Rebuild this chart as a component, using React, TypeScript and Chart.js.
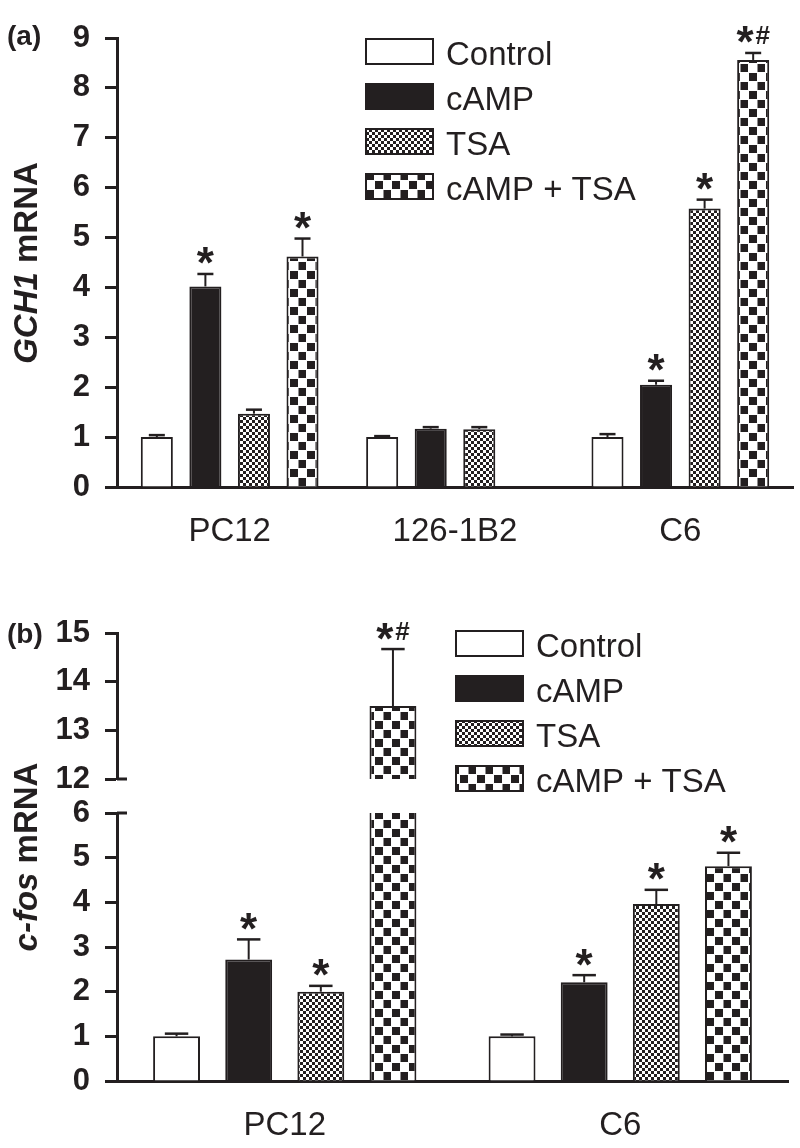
import React, { useEffect, useRef } from 'react';
import { Chart, registerables } from 'chart.js';

Chart.register(...registerables);

const W = 800;
const H = 1148;
const INK = '#231f20';
const FONT = '"Liberation Sans", Arial, Helvetica, sans-serif';

const seriesNames = ['Control', 'cAMP', 'TSA', 'cAMP + TSA'];

// ---------- Panel (a): GCH1 mRNA ----------
const cellsA = ['PC12', '126-1B2', 'C6'];
const controlA: (number | null)[] = [1.0, 1.0, 1.0];
const campA: (number | null)[] = [4.02, 1.17, 2.05];
const tsaA: (number | null)[] = [1.47, 1.16, 5.58];
const comboA: (number | null)[] = [4.62, null, 8.56];
const controlErrA: (number | null)[] = [0.04, 0.02, 0.06];
const campErrA: (number | null)[] = [0.25, 0.03, 0.08];
const tsaErrA: (number | null)[] = [0.08, 0.04, 0.18];
const comboErrA: (number | null)[] = [0.36, null, 0.14];
const controlSigA = ['', '', ''];
const campSigA = ['*', '', '*'];
const tsaSigA = ['', '', '*'];
const comboSigA = ['*', '', '*#'];
const ticksA = [0, 1, 2, 3, 4, 5, 6, 7, 8, 9];

// ---------- Panel (b): c-fos mRNA ----------
const cellsB = ['PC12', 'C6'];
const controlB: (number | null)[] = [1.0, 1.0];
const campB: (number | null)[] = [2.72, 2.21];
const tsaB: (number | null)[] = [2.0, 3.96];
const comboB: (number | null)[] = [13.5, 4.81];
const controlErrB: (number | null)[] = [0.06, 0.04];
const campErrB: (number | null)[] = [0.45, 0.16];
const tsaErrB: (number | null)[] = [0.13, 0.32];
const comboErrB: (number | null)[] = [1.17, 0.3];
const controlSigB = ['', ''];
const campSigB = ['*', '*'];
const tsaSigB = ['*', '*'];
const comboSigB = ['*#', '*'];
const ticksBLow = [0, 1, 2, 3, 4, 5, 6];
const ticksBHigh = [12, 13, 14, 15];

type Spec = {
  key: string;
  labels: string[];
  values: (number | null)[][];
  errors: (number | null)[][];
  sigs: string[][];
  yTicks: number[];
  mode: 'normal' | 'lower' | 'upper';
  top: number;
  bottom: number | null; // x-axis baseline (null => no x axis)
  floatBottom?: number;
  right: number;
  xPad: number;
  catPct: number;
  barPct: number;
  stubs: number[];
  legend?: { x: number; y: number; textX: number };
  title?: { parts: [string, boolean][]; x: number; cy: number };
  tag?: { text: string; x: number; y: number };
};

function makePattern(tw: number, th: number, sq: number, off: number) {
  const c = document.createElement('canvas');
  c.width = tw;
  c.height = th;
  const g = c.getContext('2d')!;
  g.fillStyle = '#ffffff';
  g.fillRect(0, 0, tw, th);
  g.fillStyle = INK;
  g.fillRect(off, off, sq, sq);
  g.fillRect(off + tw / 2, off + th / 2, sq, sq);
  return g.createPattern(c, 'repeat') as CanvasPattern;
}

function drawSig(ctx: CanvasRenderingContext2D, sig: string, cx: number, cy: number) {
  const parts = sig.split('').map((ch) => ({
    ch,
    font: ch === '*' ? `bold 44px ${FONT}` : `bold 26px ${FONT}`,
  }));
  const gap = 2;
  let total = 0;
  const ms = parts.map((p) => {
    ctx.font = p.font;
    const m = ctx.measureText(p.ch);
    total += m.width;
    return m;
  });
  total += gap * (parts.length - 1);
  let x = cx - total / 2;
  ctx.textAlign = 'left';
  ctx.textBaseline = 'alphabetic';
  parts.forEach((p, k) => {
    ctx.font = p.font;
    const m = ms[k];
    const y = cy + (m.actualBoundingBoxAscent - m.actualBoundingBoxDescent) / 2;
    ctx.fillText(p.ch, x, y);
    x += m.width + gap;
  });
}

function buildChart(canvas: HTMLCanvasElement, spec: Spec, fills: (string | CanvasPattern)[]) {
  const lo = spec.yTicks[0];
  const hi = spec.yTicks[spec.yTicks.length - 1];

  const datasets = seriesNames.map((name, s) => ({
    label: name,
    data: spec.values[s].map((v) => {
      if (v == null) return null;
      if (spec.mode === 'upper') return v > lo ? [lo, Math.min(v, hi)] : null;
      if (spec.mode === 'lower') return Math.min(v, hi);
      return v;
    }),
    backgroundColor: fills[s],
    borderColor: INK,
    borderWidth: (c: any) => {
      const v = spec.values[s][c.dataIndex];
      if (spec.mode === 'lower' && v != null && v > hi) return { left: 2, right: 2, top: 0, bottom: 0 };
      return 2;
    },
    categoryPercentage: spec.catPct,
    barPercentage: spec.barPct,
  }));

  const plugin = {
    id: 'extras_' + spec.key,
    afterDatasetsDraw(chart: any) {
      const ctx: CanvasRenderingContext2D = chart.ctx;
      const ys = chart.scales.y;
      const area = chart.chartArea;
      ctx.save();
      ctx.strokeStyle = INK;
      ctx.fillStyle = INK;
      spec.values.forEach((vals, s) => {
        const meta = chart.getDatasetMeta(s);
        vals.forEach((v, i) => {
          if (v == null || v < lo || v > hi) return;
          const el: any = meta.data[i];
          if (!el) return;
          const e = spec.errors[s][i] ?? 0;
          const top = ys.getPixelForValue(v);
          const et = ys.getPixelForValue(v + e);
          const cap = el.width * 0.5;
          ctx.lineWidth = 2;
          ctx.beginPath();
          ctx.moveTo(el.x, top);
          ctx.lineTo(el.x, et);
          ctx.stroke();
          ctx.lineWidth = 2.5;
          ctx.beginPath();
          ctx.moveTo(el.x - cap / 2, et);
          ctx.lineTo(el.x + cap / 2, et);
          ctx.stroke();
          const sig = spec.sigs[s][i];
          if (sig) drawSig(ctx, sig, el.x, et - 18);
        });
      });
      ctx.lineWidth = 3;
      spec.stubs.forEach((v) => {
        const y = ys.getPixelForValue(v);
        ctx.beginPath();
        ctx.moveTo(area.left, y);
        ctx.lineTo(area.left + 10, y);
        ctx.stroke();
      });
      ctx.restore();
    },
    afterDraw(chart: any) {
      const ctx: CanvasRenderingContext2D = chart.ctx;
      ctx.save();
      if (spec.legend) {
        const { x, y, textX } = spec.legend;
        seriesNames.forEach((name, s) => {
          const top = y + s * 45;
          ctx.fillStyle = fills[s] as any;
          ctx.fillRect(x, top, 67, 25);
          ctx.lineWidth = 2;
          ctx.strokeStyle = INK;
          ctx.strokeRect(x, top, 67, 25);
          ctx.fillStyle = INK;
          ctx.font = `33px ${FONT}`;
          ctx.textAlign = 'left';
          ctx.textBaseline = 'alphabetic';
          ctx.fillText(name, textX, top + 26);
        });
      }
      if (spec.title) {
        const t = spec.title;
        ctx.translate(t.x, t.cy);
        ctx.rotate(-Math.PI / 2);
        ctx.fillStyle = INK;
        ctx.textBaseline = 'alphabetic';
        ctx.textAlign = 'left';
        let total = 0;
        t.parts.forEach(([txt, it]) => {
          ctx.font = `${it ? 'italic ' : ''}bold 33px ${FONT}`;
          total += ctx.measureText(txt).width;
        });
        let x = -total / 2;
        t.parts.forEach(([txt, it]) => {
          ctx.font = `${it ? 'italic ' : ''}bold 33px ${FONT}`;
          ctx.fillText(txt, x, 0);
          x += ctx.measureText(txt).width;
        });
        ctx.setTransform(1, 0, 0, 1, 0, 0);
      }
      if (spec.tag) {
        ctx.fillStyle = INK;
        ctx.font = `bold 28px ${FONT}`;
        ctx.textAlign = 'left';
        ctx.textBaseline = 'alphabetic';
        ctx.fillText(spec.tag.text, spec.tag.x, spec.tag.y);
      }
      ctx.restore();
    },
  };

  const hasX = spec.bottom != null;

  return new Chart(canvas, {
    type: 'bar',
    data: { labels: spec.labels, datasets: datasets as any },
    options: {
      responsive: false,
      animation: false,
      events: [],
      layout: {
        padding: {
          top: spec.top,
          right: spec.right,
          left: 0,
          bottom: hasX ? 0 : H - (spec.floatBottom as number),
        },
      },
      plugins: {
        legend: { display: false },
        tooltip: { enabled: false },
        title: { display: false },
      },
      scales: {
        x: {
          display: hasX,
          z: 1,
          grid: { display: false },
          border: { display: true, width: 3, color: INK },
          ticks: {
            color: INK,
            padding: spec.xPad,
            font: { family: FONT, size: 33, weight: 'normal' },
            maxRotation: 0,
          },
          afterFit: (sc: any) => {
            if (hasX) sc.height = H - (spec.bottom as number);
          },
        },
        y: {
          min: lo,
          max: hi,
          z: 1,
          grid: {
            drawOnChartArea: false,
            drawTicks: true,
            tickLength: 12,
            tickWidth: 3,
            tickColor: INK,
            color: INK,
          },
          border: { display: true, width: 3, color: INK },
          ticks: {
            color: INK,
            padding: 15,
            font: { family: FONT, size: 31, weight: 'bold' },
          },
          afterBuildTicks: (sc: any) => {
            sc.ticks = spec.yTicks.map((v) => ({ value: v }));
          },
          afterFit: (sc: any) => {
            sc.width = 117;
          },
        },
      },
    } as any,
    plugins: [plugin],
  });
}

function ChartLayer({ spec }: { spec: Spec }) {
  const ref = useRef<HTMLCanvasElement>(null);
  useEffect(() => {
    const fills: (string | CanvasPattern)[] = [
      '#ffffff',
      INK,
      makePattern(6, 6, 3, 0),
      makePattern(17, 18, 8, 1),
    ];
    const chart = buildChart(ref.current!, spec, fills);
    return () => chart.destroy();
  }, []);
  return (
    <canvas
      ref={ref}
      width={W}
      height={H}
      style={{ position: 'absolute', left: 0, top: 0, width: W, height: H }}
    />
  );
}

const specA: Spec = {
  key: 'a',
  labels: cellsA,
  values: [controlA, campA, tsaA, comboA],
  errors: [controlErrA, campErrA, tsaErrA, comboErrA],
  sigs: [controlSigA, campSigA, tsaSigA, comboSigA],
  yTicks: ticksA,
  mode: 'normal',
  top: 38,
  bottom: 487,
  right: 7,
  xPad: 17,
  catPct: 0.862,
  barPct: 0.66,
  stubs: [],
  legend: { x: 366, y: 39, textX: 446 },
  title: { parts: [['GCH1', true], [' mRNA', false]], x: 37, cy: 263 },
  tag: { text: '(a)', x: 7, y: 45 },
};

const specBHigh: Spec = {
  key: 'bh',
  labels: cellsB,
  values: [controlB, campB, tsaB, comboB],
  errors: [controlErrB, campErrB, tsaErrB, comboErrB],
  sigs: [controlSigB, campSigB, tsaSigB, comboSigB],
  yTicks: ticksBHigh,
  mode: 'upper',
  top: 633,
  bottom: null,
  floatBottom: 779,
  right: 12,
  xPad: 19,
  catPct: 0.86,
  barPct: 0.65,
  stubs: [12],
  legend: { x: 456, y: 631, textX: 536 },
  tag: { text: '(b)', x: 7, y: 643 },
};

const specBLow: Spec = {
  key: 'bl',
  labels: cellsB,
  values: [controlB, campB, tsaB, comboB],
  errors: [controlErrB, campErrB, tsaErrB, comboErrB],
  sigs: [controlSigB, campSigB, tsaSigB, comboSigB],
  yTicks: ticksBLow,
  mode: 'lower',
  top: 813,
  bottom: 1081,
  right: 12,
  xPad: 17,
  catPct: 0.86,
  barPct: 0.65,
  stubs: [6],
  title: { parts: [['c-fos', true], [' mRNA', false]], x: 37, cy: 857 },
};

export default function App() {
  return (
    <div
      style={{
        position: 'absolute',
        left: 0,
        top: 0,
        width: W,
        height: H,
        overflow: 'hidden',
        background: '#ffffff',
      }}
    >
      <ChartLayer spec={specA} />
      <ChartLayer spec={specBHigh} />
      <ChartLayer spec={specBLow} />
    </div>
  );
}
